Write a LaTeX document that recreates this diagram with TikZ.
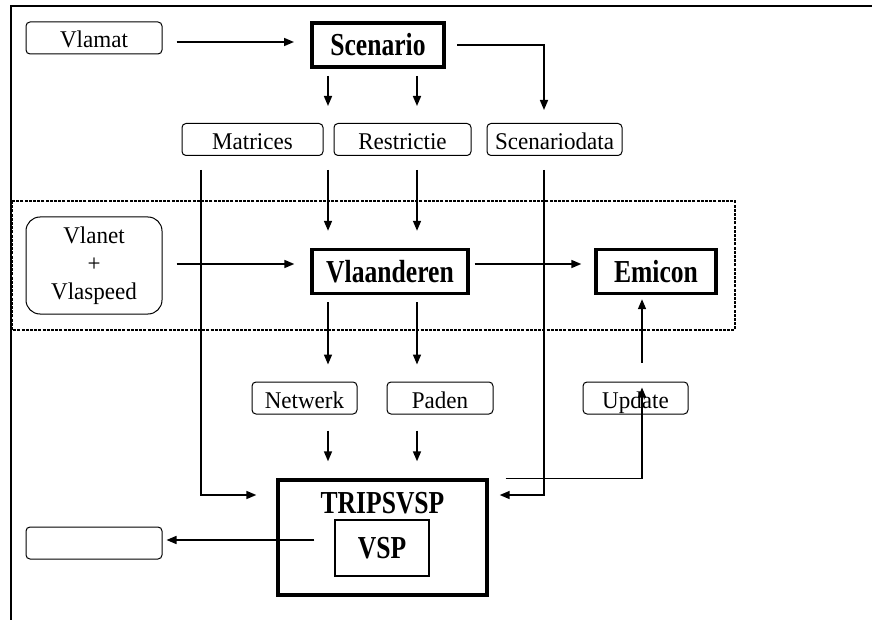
\documentclass[tikz,border=0pt]{standalone}
\usepackage{fontspec}
\setmainfont{Liberation Serif}
\newfontfamily\textserif[FakeStretch=0.96]{Liberation Serif}
\newfontfamily\condserif[FakeStretch=0.8]{Liberation Serif}
\usetikzlibrary{arrows.meta}

\begin{document}
\begin{tikzpicture}[
  x=0.5pt, y=-0.5pt,
  plain/.style={font=\textserif\fontsize{12}{14}\selectfont},
  headtext/.style={font=\condserif\bfseries\fontsize{16}{18}\selectfont},
  soft/.style={plain, draw, rounded corners=2pt, line width=0.5pt, inner sep=0pt, minimum height=16pt, text height=10pt, text depth=0pt},
  model/.style={headtext, draw, line width=1.7pt, inner sep=0pt, minimum height=22pt},
  arr/.style={-{Triangle[length=5pt,width=4pt]}, line width=0.8pt, shorten >=8.5pt},
]
\useasboundingbox (0,0) rectangle (872,620);
\draw[line width=1pt] (11,620) -- (11,6) -- (872,6);

% the regional model block
\draw[line width=0.8pt, dash pattern=on 1.5pt off 0.6pt] (12,201) rectangle (735,330);

\node[soft, minimum width=68pt] (vlamat) at (94,38) {Vlamat};
\node[model, line width=2pt, minimum width=66pt] (scenario) at (378,45) {Scenario};
\node[soft, minimum width=70.5pt] (matrices) at (252.5,139.5) {Matrices};
\node[soft, minimum width=68.5pt] (restrictie) at (402.5,139.5) {Restrictie};
\node[soft, minimum width=67.5pt] (scenariodata) at (554.5,139.5) {Scenariodata};

\node[soft, text height={}, text depth={}, rounded corners=7pt, minimum width=68pt, minimum height=48.5pt, align=center] (vlanet) at (94,265.5) {Vlanet\\+\\Vlaspeed};
\node[model, minimum width=78pt] (vlaanderen) at (390,271.5) {Vlaanderen};
\node[model, minimum width=60pt] (emicon) at (656,271.5) {Emicon};

\node[soft, minimum width=52.5pt] (netwerk) at (304.5,398) {Netwerk};
\node[soft, minimum width=53pt] (paden) at (440,398) {Paden};
\node[soft, minimum width=52.5pt] (update) at (635.5,398) {Update};

\node[draw, line width=1.7pt, minimum width=104.5pt, minimum height=57.5pt] (trips) at (382.5,537.5) {};
\node[headtext] (tripstitle) at (382.5,503) {TRIPSVSP};
\node[headtext, draw, line width=0.6pt, inner sep=0pt, minimum width=47pt, minimum height=28pt] (vsp) at (382,548) {VSP};
\node[soft, minimum width=68pt] (output) at (94,543) {};

% columns and rows the connectors run along
\coordinate (colA) at (328,0);
\coordinate (colB) at (417,0);
\coordinate (colM) at (201,0);
\coordinate (colS) at (544,0);
\coordinate (colU) at (642,0);
\coordinate (rowA) at (0,42);
\coordinate (rowB) at (0,264);
\coordinate (rowT) at (0,495);
\coordinate (rowO) at (0,540);

\draw[arr, shorten <=7pt, shorten >=8pt] (vlamat.east |- rowA) -- (scenario.west |- rowA);
\draw[arr, shorten <=5.5pt, shorten >=6.5pt] (scenario.east) -| (scenariodata.north -| colS);
\draw[arr, shorten <=7pt, shorten >=8pt] (vlanet.east |- rowB) -- (vlaanderen.west |- rowB);
\draw[arr, shorten <=2.5pt, shorten >=6.5pt] (vlaanderen.east |- rowB) -- (emicon.west |- rowB);

\foreach \c/\upper/\lower in {colA/matrices/netwerk, colB/restrictie/paden} {
  \draw[arr, shorten <=3.5pt] (scenario.south -| \c) -- (\upper.north -| \c);
  \draw[arr, shorten <=7pt] (\upper.south -| \c) -- (vlaanderen.north -| \c);
  \draw[arr, shorten <=3.5pt] (vlaanderen.south -| \c) -- (\lower.north -| \c);
  \draw[arr, shorten <=8pt] (\lower.south -| \c) -- (trips.north -| \c);
}

\draw[arr, shorten <=7pt, shorten >=10pt] (matrices.south -| colM) |- (trips.west |- rowT);
\draw[arr, shorten <=7pt, shorten >=5.5pt] (scenariodata.south -| colS) |- (trips.east |- rowT);
\draw[arr, shorten <=8.5pt, shorten >=3pt] (trips.north east) -| (update.north -| colU);
\draw[arr, shorten <=9.5pt, shorten >=2pt] (update.north -| colU) -- (emicon.south -| colU);
\draw[arr, shorten <=10pt, shorten >=2pt] (vsp.west |- rowO) -- (output.east |- rowO);
\end{tikzpicture}
\end{document}
